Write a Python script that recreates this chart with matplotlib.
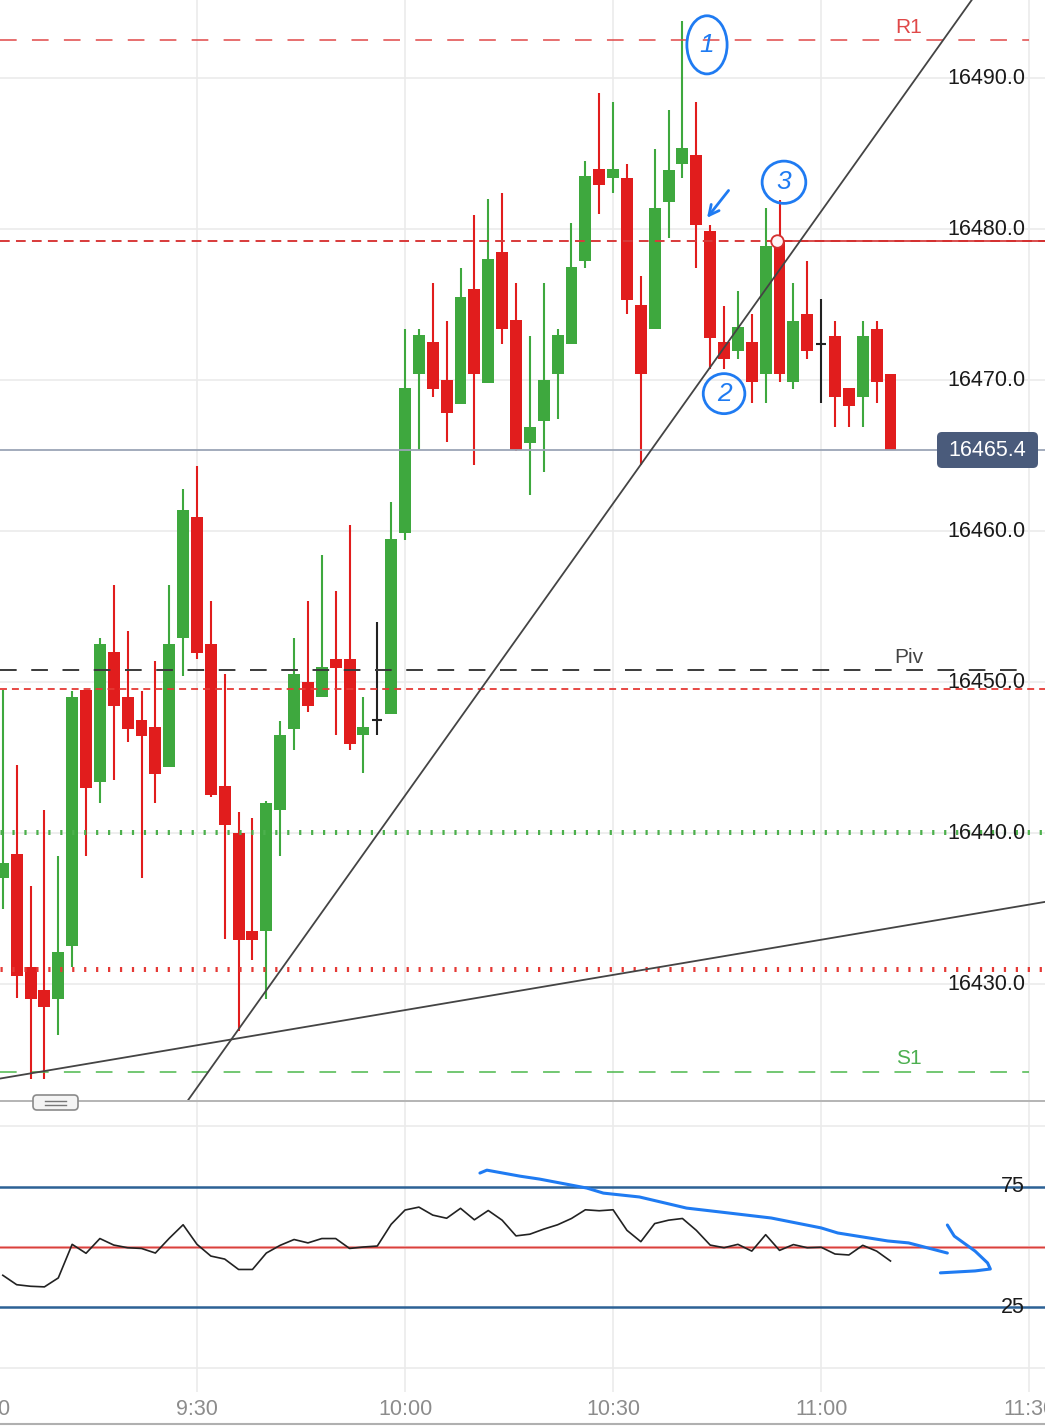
import matplotlib
matplotlib.use('Agg')
import matplotlib.pyplot as plt
from matplotlib.patches import Ellipse, FancyBboxPatch
from matplotlib.transforms import blended_transform_factory, IdentityTransform
from matplotlib.lines import Line2D

plt.rcParams['font.family'] = ['Liberation Sans', 'DejaVu Sans']
plt.rcParams['lines.scale_dashes'] = False

# 2-minute candles, first one at 9:02 (index 0)
opens = [16437.0, 16438.6, 16431.1, 16429.6, 16429.0, 16432.5, 16449.5, 16443.4, 16452.0, 16449.0,
         16447.5, 16447.0, 16444.4, 16452.9, 16460.9, 16452.5, 16443.1, 16440.0, 16433.5, 16433.5,
         16441.5, 16446.9, 16450.0, 16449.0, 16451.5, 16451.5, 16446.5, 16447.5, 16447.9, 16459.9,
         16470.4, 16472.5, 16470.0, 16468.4, 16476.0, 16469.8, 16478.5, 16474.0, 16465.8, 16467.3,
         16470.4, 16472.4, 16477.9, 16484.0, 16483.4, 16483.4, 16475.0, 16473.4, 16481.8, 16484.3,
         16484.9, 16479.9, 16472.5, 16471.9, 16472.5, 16470.4, 16479.3, 16469.9, 16474.4, 16472.4,
         16472.9, 16469.5, 16468.9, 16473.4, 16470.4]
highs = [16449.5, 16444.5, 16436.5, 16441.5, 16438.5, 16449.4, 16449.5, 16452.9, 16456.4, 16453.4,
         16449.4, 16451.4, 16456.4, 16462.8, 16464.3, 16455.4, 16450.5, 16441.4, 16441.0, 16442.1,
         16447.4, 16452.9, 16455.4, 16458.4, 16456.0, 16460.4, 16449.0, 16454.0, 16461.9, 16473.4,
         16473.4, 16476.4, 16473.9, 16477.4, 16480.9, 16482.0, 16482.4, 16476.4, 16472.9, 16476.4,
         16473.4, 16480.4, 16484.5, 16489.0, 16488.4, 16484.3, 16476.9, 16485.3, 16487.9, 16493.8,
         16488.4, 16480.3, 16474.9, 16475.9, 16474.4, 16481.4, 16481.9, 16476.4, 16477.9, 16475.4,
         16473.9, 16469.5, 16473.9, 16473.9, 16470.4]
lows = [16435.0, 16429.1, 16423.7, 16423.7, 16426.6, 16431.1, 16438.5, 16442.0, 16443.5, 16446.0,
        16437.0, 16442.0, 16444.4, 16450.4, 16451.5, 16442.4, 16433.0, 16426.9, 16431.6, 16429.0,
        16438.5, 16445.5, 16448.0, 16449.0, 16446.5, 16445.5, 16444.0, 16446.5, 16447.9, 16459.4,
        16465.4, 16468.9, 16465.9, 16468.4, 16464.4, 16469.8, 16472.4, 16465.3, 16462.4, 16463.9,
        16467.4, 16472.4, 16477.4, 16481.0, 16482.4, 16474.4, 16464.4, 16473.4, 16479.4, 16483.4,
        16477.4, 16470.7, 16470.7, 16471.4, 16468.5, 16468.5, 16469.9, 16469.4, 16471.4, 16468.5,
        16466.9, 16466.9, 16466.9, 16468.5, 16465.4]
closes = [16438.0, 16430.5, 16429.0, 16428.5, 16432.1, 16449.0, 16443.0, 16452.5, 16448.4, 16446.9,
          16446.4, 16443.9, 16452.5, 16461.4, 16451.9, 16442.5, 16440.5, 16432.9, 16432.9, 16442.0,
          16446.5, 16450.5, 16448.4, 16451.0, 16450.9, 16445.9, 16447.0, 16447.5, 16459.5, 16469.5,
          16473.0, 16469.4, 16467.8, 16475.5, 16470.4, 16478.0, 16473.4, 16465.4, 16466.9, 16470.0,
          16473.0, 16477.5, 16483.5, 16482.9, 16484.0, 16475.3, 16470.4, 16481.4, 16483.9, 16485.4,
          16480.3, 16472.8, 16471.4, 16473.5, 16469.9, 16478.9, 16470.4, 16473.9, 16471.9, 16472.4,
          16468.9, 16468.3, 16472.9, 16469.9, 16465.4]

# oscillator (one value per candle)
rsi = [38.3, 34.4, 33.75, 33.5, 37.2, 51.1, 47.4, 53.5, 50.8, 49.7,
       49.4, 47.5, 53.6, 59.2, 51.1, 46.25, 45.0, 40.7, 40.7, 47.5,
       50.7, 53.1, 51.7, 53.5, 53.5, 49.4, 50.0, 50.4, 59.4, 65.3,
       66.5, 63.2, 61.9, 66.0, 61.25, 65.1, 61.1, 54.6, 55.3, 57.4,
       59.2, 61.8, 65.4, 65.0, 65.4, 56.9, 52.2, 59.7, 61.1, 61.8,
       56.9, 50.8, 49.7, 51.1, 48.3, 55.1, 48.6, 51.0, 49.7, 49.9,
       47.1, 46.7, 50.7, 48.3, 44.2]

time_ticks = [-1, 14, 29, 44, 59, 74]
time_labels = ['9:00', '9:30', '10:00', '10:30', '11:00', '11:30']
price_ticks = [16430, 16440, 16450, 16460, 16470, 16480, 16490]

last_price = 16465.4
r1 = 16492.5
piv = 16450.8
s1 = 16424.2
red_dash_hi = 16479.2
red_dash_lo = 16449.55
green_dot = 16440.07
red_dot = 16431.0

# drawn trend lines (index, price)
trend_a_x = [13.35, 69.88]
trend_a_y = [16422.3, 16495.2]
trend_b_x = [-0.2, 75.14]
trend_b_y = [16423.74, 16435.44]
alert_x = 55.82

# hand-drawn notes
note_circles = [(50.77, 16492.2, 2.9, 3.85, '1'), (52.0, 16469.1, 3.0, 2.65, '2'), (56.32, 16483.1, 3.15, 2.8, '3')]
note_line_x = [34.4, 34.9, 37.3, 38.7, 42.1, 43.3, 45.9, 49.3, 51.7, 55.4, 59.0, 60.2, 63.8, 65.3, 68.1]
note_line_y = [80.6, 81.8, 79.3, 78.1, 74.4, 72.3, 70.7, 66.1, 64.5, 62.0, 57.9, 55.8, 52.5, 51.7, 47.5]
note_hook_x = [68.1, 68.6, 70.1, 71.0, 71.2, 70.1, 67.6]
note_hook_y = [59.1, 54.5, 48.3, 43.4, 40.9, 40.1, 39.3]

W, H = 1045, 1426
fig = plt.figure(figsize=(W / 100, H / 100), dpi=100)
fig.patch.set_facecolor('white')

ax = fig.add_axes([0, 1 - 1100 / H, 1, 1100 / H])
ax2 = fig.add_axes([0, 1 - 1392 / H, 1, 290 / H])
xlim = (-0.202, 75.14)
for a in (ax, ax2):
    a.set_xlim(*xlim)
    a.axis('off')
ax.set_ylim(16422.32, 16495.17)
ax2.set_ylim(-10, 110)

grid_c = '#ebebeb'
for t in time_ticks:
    ax.axvline(t, color=grid_c, lw=1.2, zorder=0)
    ax2.axvline(t, color=grid_c, lw=1.2, zorder=0)
for p in price_ticks:
    ax.axhline(p, color=grid_c, lw=1.2, zorder=0)
ax2.axhline(0, color=grid_c, lw=1.2, zorder=0)
ax2.axhline(100, color=grid_c, lw=1.2, zorder=0)

# candles
green, red, doji = '#3ea83e', '#e11d1d', '#222222'
idx = list(range(len(opens)))
cols = []
for o, c in zip(opens, closes):
    cols.append(green if c > o else (red if c < o else doji))
ax.vlines(idx, lows, highs, colors=cols, lw=1.5, zorder=2)
bottoms = [min(o, c) for o, c in zip(opens, closes)]
heights = [abs(c - o) for o, c in zip(opens, closes)]
ax.bar(idx, heights, bottom=bottoms, width=0.86, color=cols, linewidth=0, zorder=2)
for i, (o, c) in enumerate(zip(opens, closes)):
    if o == c:
        ax.hlines(o, i - 0.35, i + 0.35, colors=doji, lw=1.5, zorder=2)

# level lines
ax.axhline(r1, xmax=0.985, color='#e04848', lw=1.1, ls=(0, (12, 11)), zorder=3)
ax.axhline(red_dash_hi, color='#d83a3a', lw=1.4, ls=(0, (7, 4.5)), zorder=3)
ax.axhline(piv, xmax=0.985, color='#3a3a3a', lw=1.4, ls=(0, (12, 10.5)), zorder=3)
ax.axhline(red_dash_lo, color='#e53935', lw=1.3, ls=(0, (5, 3.6)), zorder=3)
ax.axhline(green_dot, color='#4cb04c', lw=3.6, ls=(0, (1.6, 7.0)), zorder=3)
ax.axhline(red_dot, color='#e53935', lw=3.6, ls=(0, (1.6, 7.0)), zorder=3)
ax.axhline(s1, xmax=0.985, color='#4cb84c', lw=1.1, ls=(0, (12, 11)), zorder=3)
ax.axhline(last_price, color='#9ba5b6', lw=1.3, zorder=3)
ax.plot([alert_x, xlim[1]], [red_dash_hi, red_dash_hi], color='#d32f2f', lw=1.2, zorder=3)
ax.plot([alert_x], [red_dash_hi], marker='o', ms=9, mfc='#fff5f5', mec='#d32f2f', mew=1.3, zorder=6)

ax.plot(trend_a_x, trend_a_y, color='#444444', lw=1.3, zorder=4)
ax.plot(trend_b_x, trend_b_y, color='#444444', lw=1.3, zorder=4)

lab_x = 65.33
ax.text(lab_x, r1 + 0.85, 'R1', color='#e04848', fontsize=15, ha='center', va='center', zorder=5)
ax.text(lab_x, piv + 0.85, 'Piv', color='#444444', fontsize=15, ha='center', va='center', zorder=5)
ax.text(lab_x, s1 + 0.85, 'S1', color='#4caf50', fontsize=15, ha='center', va='center', zorder=5)

for p in price_ticks:
    ax.text(0.981, p, f'{p:.1f}', transform=blended_transform_factory(ax.transAxes, ax.transData),
            ha='right', va='center', fontsize=15.5, color='#1a1a1a', zorder=7)

# last price tag
tag = FancyBboxPatch((937, H - 468), 101, 36, boxstyle='round,pad=0,rounding_size=5',
                     transform=IdentityTransform(), fc='#4a5b7b', ec='none', zorder=8)
fig.add_artist(tag)
fig.text(987.5 / W, 1 - 450 / H, f'{last_price:.1f}', color='white', fontsize=15.5,
         ha='center', va='center', zorder=9)

# notes
blue = '#1f7bf2'
for cx, cy, w, h, s in note_circles:
    ax.add_patch(Ellipse((cx, cy), w, h, fill=False, ec=blue, lw=2.0, zorder=6))
    ax.text(cx, cy, s, color=blue, fontsize=19, fontstyle='italic', ha='center', va='center', zorder=6)
ax.annotate('', xy=(50.65, 16480.6), xytext=(52.45, 16482.7),
            arrowprops=dict(arrowstyle='->', color=blue, lw=2.0, mutation_scale=18), zorder=6)

# oscillator pane
ax2.axhline(75, color='#2c6195', lw=1.8, zorder=2)
ax2.axhline(25, color='#2c6195', lw=1.8, zorder=2)
ax2.axhline(50, color='#f2b0b0', lw=2.2, zorder=2)
ax2.axhline(50, color='#d9403c', lw=1.0, zorder=2)
ax2.plot(idx, rsi, color='#222222', lw=1.2, zorder=3)
ax2.plot(note_line_x, note_line_y, color=blue, lw=2.2, zorder=4, solid_capstyle='round')
ax2.plot(note_hook_x, note_hook_y, color=blue, lw=2.2, zorder=4, solid_capstyle='round')
for v in (75, 25):
    ax2.text(0.981, v, str(v), transform=blended_transform_factory(ax2.transAxes, ax2.transData),
             ha='right', va='center', fontsize=15.5, color='#1a1a1a', zorder=5)
bt = blended_transform_factory(ax2.transData, ax2.transAxes)
for t, s in zip(time_ticks, time_labels):
    ax2.text(t, -0.062, s, transform=bt, ha='center', va='center', fontsize=15.5,
             color='#8c8c8c', clip_on=False)

# pane separator, handle and bottom edge
fig.add_artist(Line2D([0, 1], [1 - 1101 / H] * 2, color='#a8a8a8', lw=1.2))
fig.add_artist(Line2D([0, 1], [1 - 1424 / H] * 2, color='#b0b0b0', lw=1.5))
handle = FancyBboxPatch((33, H - 1110), 45, 15, boxstyle='round,pad=0,rounding_size=4',
                        transform=IdentityTransform(), fc='#f4f4f4', ec='#8a8a8a', lw=1.2, zorder=9)
fig.add_artist(handle)
for yy in (1100.5, 1104.5):
    fig.add_artist(Line2D([45 / W, 66 / W], [1 - yy / H] * 2, color='#777777', lw=1.0, zorder=10))

fig.savefig('out.png', dpi=100)
